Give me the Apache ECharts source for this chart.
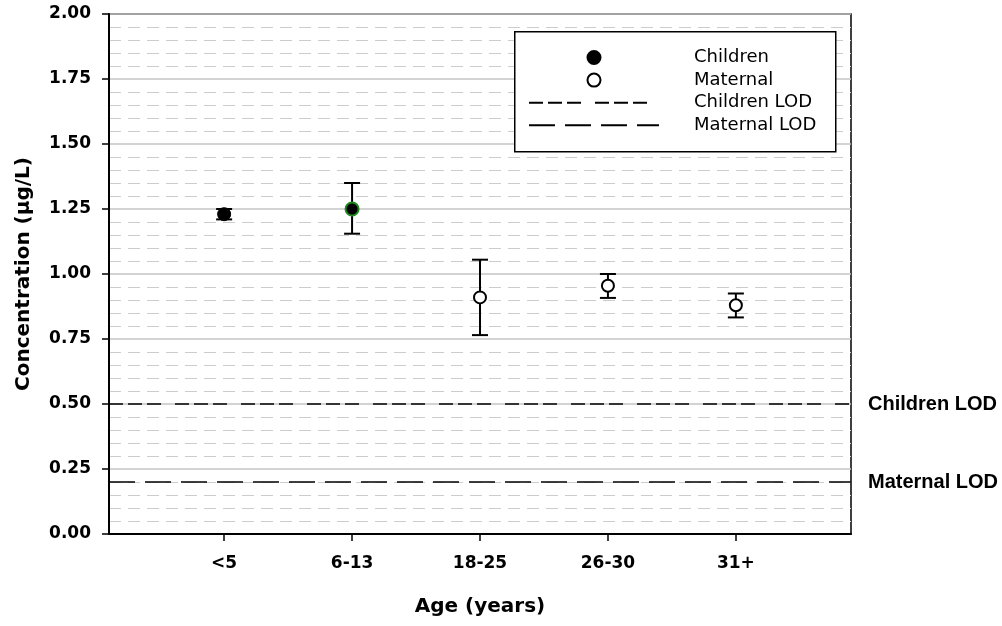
<!DOCTYPE html>
<html>
<head>
<meta charset="utf-8">
<script src="https://cdn.jsdelivr.net/npm/echarts@6/dist/echarts.min.js"></script>
<style>
  html, body { margin: 0; padding: 0; background: #fff; }
  #main { width: 1002px; height: 626px; }
</style>
</head>
<body>
<div id="main"></div>
<script>
// age groups on the x axis (placed at 1..5)
var ageGroups = ['<5', '6-13', '18-25', '26-30', '31+'];
// children: mean and error bar ends
var childMean = [1.23, 1.25];
var childLow = [1.21, 1.155];
var childHigh = [1.25, 1.35];
// maternal
var matMean = [0.91, 0.955, 0.88];
var matLow = [0.765, 0.908, 0.833];
var matHigh = [1.055, 1.0, 0.925];
// limits of detection
var childLOD = 0.5;
var matLOD = 0.2;

var font = 'DejaVu Sans, Verdana, sans-serif';
var arial = 'Liberation Sans, Arial, sans-serif';
var xMin = 0.1, xMax = 5.9;

var childData = [];
var matData = [];
var errData = [];
for (var i = 0; i < childMean.length; i++) {
    var item = { value: [i + 1, childMean[i]] };
    if (i == 1) {
        item.itemStyle = { borderColor: '#1e8a1e', borderWidth: 2 };
    }
    childData.push(item);
    errData.push([i + 1, childLow[i], childHigh[i]]);
}
for (var j = 0; j < matMean.length; j++) {
    matData.push([j + 3, matMean[j]]);
    errData.push([j + 3, matLow[j], matHigh[j]]);
}

// no marker on the legend icons of the LOD lines
var hideMark = { color: 'rgba(0,0,0,0)', borderWidth: 0 };

var myChart = echarts.init(document.getElementById('main'));
var option = {
    animation: false,
    backgroundColor: '#fff',
    textStyle: { fontFamily: font },
    grid: {
        left: 109, right: 151, top: 14, bottom: 92,
        show: true, borderColor: '#000', borderWidth: 1.5
    },
    graphic: [{
        type: 'rect',
        left: 514, top: 31, z: 1,
        shape: { width: 321, height: 120 },
        style: { fill: '#fff', stroke: '#000', lineWidth: 1.5 }
    }],
    legend: {
        orient: 'vertical',
        left: 528, top: 48.5,
        padding: 0,
        itemWidth: 130, itemHeight: 13, itemGap: 4.6,
        z: 6,
        data: [
            'Children',
            'Maternal',
            { name: 'Children LOD', itemStyle: hideMark },
            { name: 'Maternal LOD', itemStyle: hideMark }
        ],
        textStyle: { color: '#000', fontSize: 18, fontFamily: font, padding: [0, 0, 0, 30] }
    },
    xAxis: {
        type: 'value',
        min: xMin, max: xMax,
        name: 'Age (years)',
        nameLocation: 'middle',
        nameGap: 63,
        nameTextStyle: { fontSize: 20, fontWeight: 'bold', color: '#000' },
        axisLine: { lineStyle: { color: '#000', width: 2 } },
        axisTick: { customValues: [1, 2, 3, 4, 5], length: 7, lineStyle: { color: '#000', width: 1.5 } },
        axisLabel: {
            customValues: [1, 2, 3, 4, 5],
            margin: 21,
            fontSize: 17, fontWeight: 'bold', color: '#000',
            formatter: function (v) { return ageGroups[Math.round(v) - 1]; }
        },
        splitLine: { show: false }
    },
    yAxis: {
        type: 'value',
        min: 0, max: 2, interval: 0.25,
        name: 'Concentration (\u00b5g/L)',
        nameLocation: 'middle',
        nameGap: 75,
        nameTextStyle: { fontSize: 20, fontWeight: 'bold', color: '#000' },
        axisLine: { show: true, lineStyle: { color: '#000', width: 2 } },
        axisTick: { show: true, length: 7, lineStyle: { color: '#000', width: 1.5 } },
        axisLabel: {
            margin: 18,
            fontSize: 17, fontWeight: 'bold', color: '#000',
            formatter: function (v) { return v.toFixed(2); }
        },
        splitLine: { show: true, lineStyle: { color: '#c4c4c4', width: 1.5 } },
        minorTick: { show: false, splitNumber: 5 },
        minorSplitLine: { show: true, lineStyle: { color: '#cccccc', width: 1, type: [12, 7] } }
    },
    series: [{
        name: 'errors',
        type: 'custom',
        z: 3,
        data: errData,
        renderItem: function (params, api) {
            var x = api.value(0);
            var lo = api.coord([x, api.value(1)]);
            var hi = api.coord([x, api.value(2)]);
            var w = 8;
            var st = { stroke: '#000', lineWidth: 2 };
            return {
                type: 'group',
                children: [
                    { type: 'line', shape: { x1: lo[0], y1: lo[1], x2: hi[0], y2: hi[1] }, style: st },
                    { type: 'line', shape: { x1: lo[0] - w, y1: lo[1], x2: lo[0] + w, y2: lo[1] }, style: st },
                    { type: 'line', shape: { x1: hi[0] - w, y1: hi[1], x2: hi[0] + w, y2: hi[1] }, style: st }
                ]
            };
        }
    }, {
        name: 'Children',
        type: 'scatter',
        z: 5,
        symbol: 'circle',
        symbolSize: 13,
        itemStyle: { color: '#000', borderColor: '#000', borderWidth: 1, opacity: 1 },
        data: childData
    }, {
        name: 'Maternal',
        type: 'scatter',
        z: 5,
        symbol: 'circle',
        symbolSize: 12,
        itemStyle: { color: '#fff', borderColor: '#000', borderWidth: 2, opacity: 1 },
        data: matData
    }, {
        name: 'Children LOD',
        type: 'line',
        z: 4,
        symbol: 'none',
        silent: true,
        lineStyle: { color: '#000', width: 1.6, type: [14, 5, 14, 5, 14, 14] },
        data: [[xMin, childLOD], [xMax, childLOD]],
        endLabel: {
            show: true, distance: 17,
            formatter: 'Children LOD',
            fontSize: 20, fontWeight: 'bold', fontFamily: arial, color: '#000'
        }
    }, {
        name: 'Maternal LOD',
        type: 'line',
        z: 4,
        symbol: 'none',
        silent: true,
        lineStyle: { color: '#000', width: 1.6, type: [26, 10] },
        data: [[xMin, matLOD], [xMax, matLOD]],
        endLabel: {
            show: true, distance: 17,
            formatter: 'Maternal LOD',
            fontSize: 20, fontWeight: 'bold', fontFamily: arial, color: '#000'
        }
    }]
};
myChart.setOption(option);
</script>
</body>
</html>
